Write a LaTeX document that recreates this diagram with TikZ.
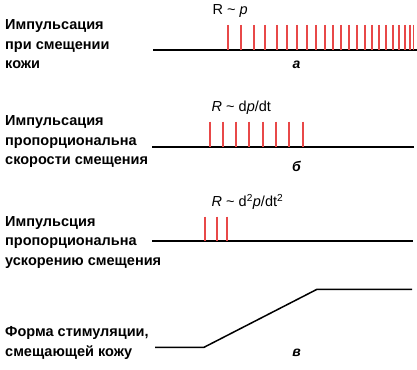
\documentclass[tikz,border=0pt]{standalone}
\usepackage{fontspec}
\setmainfont{Liberation Sans}
\begin{document}
\begin{tikzpicture}[x=1pt,y=-1pt,
  lbl/.style={anchor=base west,inner sep=0pt,font=\fontsize{14.5}{14.5}\selectfont\bfseries},
  eq/.style={anchor=base west,inner sep=0pt,font=\fontsize{14.5}{14.5}\selectfont},
  tag/.style={anchor=base,inner sep=0pt,font=\fontsize{14}{14}\selectfont\bfseries\itshape},
  axis/.style={line width=1.6pt,black},
  spike/.style={line width=1.8pt,color=spk},
  stim/.style={line width=1.5pt,black}]
\definecolor{spk}{RGB}{232,72,72}
\useasboundingbox (0,0) rectangle (417,369);
% panel a
\node[lbl] (a1) at (5,29.5) {Импульсация};
\node[lbl] (a2) at (5,49) {при смещении};
\node[lbl] (a3) at (5,68.5) {кожи};
\coordinate (aL) at (153,50);
\coordinate (aR) at (417,50);
\draw[axis] (aL) -- (aR);
\foreach \x in {228,241,254,265,277,287,297,307,316,325,333,341,349,357,365,372,379,386,393,399,405,410,413.5}
  \draw[spike] (\x,25) -- (\x,50);
\node[eq] (ra) at (212.5,14.5) {R \char`\~{} \textit{p}};
\node[tag] (ta) at (296.5,68) {а};
% panel b
\node[lbl] (b1) at (5,125) {Импульсация};
\node[lbl] (b2) at (5,145) {пропорциональна};
\node[lbl] (b3) at (5,164.5) {скорости смещения};
\coordinate (bL) at (152,146.7);
\coordinate (bR) at (414,146.7);
\draw[axis] (bL) -- (bR);
\foreach \x in {210,223,236,249,263,276,289,303}
  \draw[spike] (\x,121.7) -- (\x,146.7);
\node[eq] (rb) at (211.5,111) {\textit{R} \char`\~{} d\textit{p}/dt};
\node[tag] (tb) at (296.5,171) {б};
% panel c
\node[lbl] (c1) at (5,226.7) {Импульсция};
\node[lbl] (c2) at (5,245.7) {пропорциональна};
\node[lbl] (c3) at (5,265.7) {ускорению смещения};
\coordinate (cL) at (152,240.7);
\coordinate (cR) at (413,240.7);
\draw[axis] (cL) -- (cR);
\foreach \x in {205,217,227}
  \draw[spike] (\x,216.7) -- (\x,240.7);
\node[eq] (rc) at (211.5,206.7) {\textit{R} \char`\~{} d$^{\mathrm{2}}$\textit{p}/dt$^{\mathrm{2}}$};
% panel d
\node[lbl] (d1) at (5,336.7) {Форма стимуляции,};
\node[lbl] (d2) at (5,356) {смещающей кожу};
\coordinate (s0) at (155,347.3);
\coordinate (s1) at (204,347.3);
\coordinate (s2) at (317,289.3);
\coordinate (s3) at (412,289.3);
\draw[stim] (s0) -- (s1) -- (s2) -- (s3);
\node[tag] (td) at (296.5,356) {в};
\end{tikzpicture}
\end{document}
